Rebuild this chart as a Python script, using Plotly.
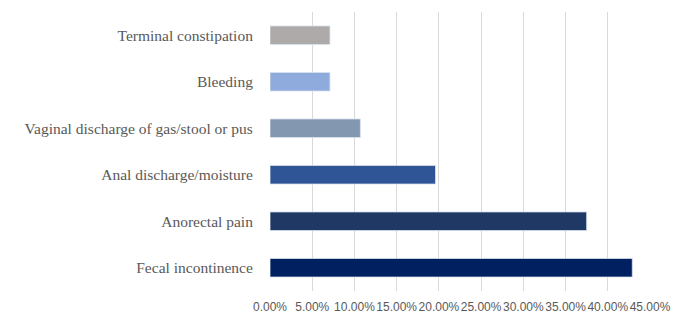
import plotly.graph_objects as go

categories = [
    "Fecal incontinence",
    "Anorectal pain",
    "Anal discharge/moisture",
    "Vaginal discharge of gas/stool or pus",
    "Bleeding",
    "Terminal constipation",
]
values = [0.429, 0.375, 0.196, 0.107, 0.071, 0.071]
colors = ["#002060", "#203864", "#2F5597", "#8497B0", "#8FAADC", "#AEAAAA"]
tick_vals = [0, 0.05, 0.10, 0.15, 0.20, 0.25, 0.30, 0.35, 0.40, 0.45]

fig = go.Figure(
    go.Bar(
        x=values,
        y=categories,
        orientation="h",
        width=0.4,
        marker=dict(color=colors, line=dict(color="#DCE3EE", width=0.8)),
    )
)

fig.update_layout(
    width=675,
    height=305,
    margin=dict(l=262, r=33, t=4, b=22),
    paper_bgcolor="white",
    plot_bgcolor="white",
    showlegend=False,
    xaxis=dict(
        range=[0, 0.45],
        tickvals=tick_vals,
        tickformat=".2%",
        tickangle=0,
        automargin=False,
        showgrid=True,
        gridcolor="#D9D9D9",
        gridwidth=1,
        zeroline=False,
        showline=False,
        ticks="outside",
        ticklen=5,
        tickcolor="rgba(0,0,0,0)",
        tickfont=dict(family="Liberation Sans", size=12, color="#595959"),
        fixedrange=True,
    ),
    yaxis=dict(
        automargin=False,
        showgrid=False,
        zeroline=False,
        showline=False,
        ticks="outside",
        ticklen=13,
        tickcolor="rgba(0,0,0,0)",
        tickfont=dict(family="Liberation Serif", size=15.5, color="#595959"),
        fixedrange=True,
    ),
)

fig.write_html("out.html")
